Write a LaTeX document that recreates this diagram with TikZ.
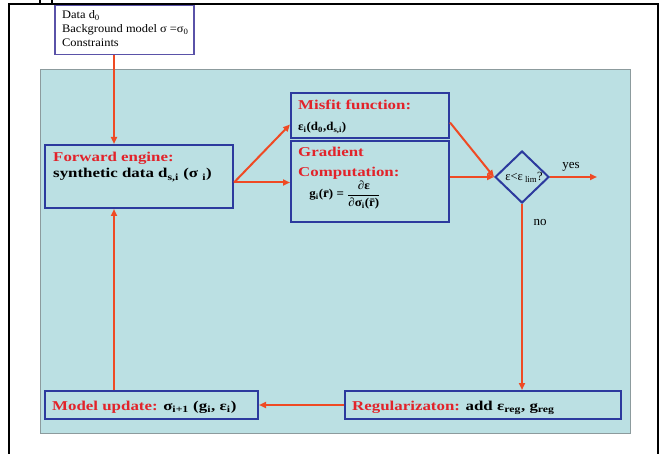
\documentclass[tikz,border=0pt]{standalone}
\usepackage{fontspec}
\setmainfont{Liberation Serif}
\usepackage{graphicx}
\usepackage{amsmath}
\usetikzlibrary{shapes.geometric,arrows.meta}
\definecolor{tealbg}{HTML}{BBE0E3}
\definecolor{tealbd}{HTML}{8C9B9D}
\definecolor{boxblue}{HTML}{2C3A9E}
\definecolor{topblue}{HTML}{5A52A8}
\definecolor{redtxt}{HTML}{E2232A}
\definecolor{arrred}{HTML}{EF4A24}
\newcommand\sxb[1]{\scalebox{1.25}[1]{#1}}
\newcommand\sxs[1]{\scalebox{1.08}[1]{#1}}
\begin{document}
\begin{tikzpicture}[x=1pt,y=-1pt,
  bgbox/.style={draw=tealbd,fill=tealbg,line width=1pt,anchor=north west,inner sep=0pt},
  topbox/.style={draw=topblue,fill=white,line width=1.5pt,anchor=north west,inner sep=0pt},
  box/.style={draw=boxblue,line width=2pt,anchor=north west,inner sep=0pt},
  arr/.style={draw=arrred,line width=2pt,-{Triangle[length=7pt,width=6pt]}},
  lbl/.style={anchor=base west,inner sep=0pt,font=\fontsize{13.5}{15}\selectfont\bfseries},
  sml/.style={anchor=base west,inner sep=0pt,font=\fontsize{11.5}{13}\selectfont},
  note/.style={inner sep=0pt,font=\fontsize{13}{15}\selectfont}
]
\useasboundingbox (0,0) rectangle (663,454);
% background panel
\node[bgbox,minimum width=590pt,minimum height=364pt] (bg) at (40,69) {};
% top input box
\node[topbox,minimum width=139pt,minimum height=49pt] (top) at (54,5) {};
% outer frame
\draw[line width=2pt] (9,454) -- (9,4) -- (658,4) -- (658,454);
\draw[line width=1.5pt] (40,0) -- (40,4) (52,0) -- (52,4);
% boxes
\node[box,minimum width=188pt,minimum height=63pt] (fwd) at (44,144) {};
\node[box,minimum width=158pt,minimum height=45pt] (mis) at (290,92) {};
\node[box,minimum width=158pt,minimum height=81pt] (grad) at (290,140) {};
\node[box,minimum width=276pt,minimum height=28pt] (reg) at (344,390) {};
\node[box,minimum width=213pt,minimum height=28pt] (model) at (44,390) {};
\node[diamond,draw=boxblue,line width=2pt,minimum width=54pt,minimum height=52pt,inner sep=0pt] (dia) at (522,177) {};
% texts
\node[sml] (t1) at (62,19) {\sxs{Data d\textsubscript{0}}};
\node[sml] (t2) at (62,33) {\sxs{Background model σ =σ\textsubscript{0}}};
\node[sml] (t3) at (62,47) {\sxs{Constraints}};
\node[lbl,text=redtxt] (f1) at (53,162) {\sxb{Forward engine:}};
\node[lbl] (f2) at (53,178) {\sxb{synthetic data d\textsubscript{s,i} (σ \textsubscript{i})}};
\node[lbl,text=redtxt] (m1) at (298,110) {\sxb{Misfit function:}};
\node[lbl,font=\fontsize{12}{14}\selectfont\bfseries] (m2) at (298,131) {\sxs{ε\textsubscript{i}(d\textsubscript{0},d\textsubscript{s,i})}};
\node[lbl,text=redtxt] (g1) at (298,157) {\sxb{Gradient}};
\node[lbl,text=redtxt] (g2) at (298,177) {\sxb{Computation:}};
\node[inner sep=0pt,font=\fontsize{12}{14}\selectfont\bfseries] (g3) at (345,195) {\sxs{g\textsubscript{i}(\=r) = $\dfrac{\text{∂ε}}{\text{∂σ\textsubscript{i}(\=r)}}$}};
\node[lbl] (mu) at (52,410) {\sxb{\textcolor{redtxt}{Model update:} σ\textsubscript{i+1} (g\textsubscript{i}, ε\textsubscript{i})}};
\node[lbl] (rg) at (352,410) {\sxb{\textcolor{redtxt}{Regularizaton:} add ε\textsubscript{reg}, g\textsubscript{reg}}};
\node[note,font=\fontsize{12.5}{14}\selectfont] (dt) at (524,177) {ε<ε\textsubscript{ lim}?};
\node[note] (yes) at (571,167) {yes};
\node[note] (no) at (540,223) {no};
% connectors
\coordinate (cx) at (114,0);
\draw[arr] (top.south -| cx) -- (fwd.north -| cx);
\draw[arr] (model.north -| cx) -- (fwd.south -| cx);
\draw[arr] (reg.west) -- (model.east);
\coordinate (fo) at ([yshift=-6pt]fwd.east);
\draw[arr] (fo) -- ([yshift=-9pt]mis.west);
\draw[arr] (fo) -- (fo -| grad.west);
\draw[arr] ([yshift=-7pt]mis.east) -- (dia.west);
\draw[arr] (grad.east |- dia.west) -- (dia.west);
\coordinate (yesend) at (597,177);
\draw[arr] (dia.east) -- (yesend);
\draw[arr] (dia.south) -- (dia.south |- reg.north);
\end{tikzpicture}
\end{document}
